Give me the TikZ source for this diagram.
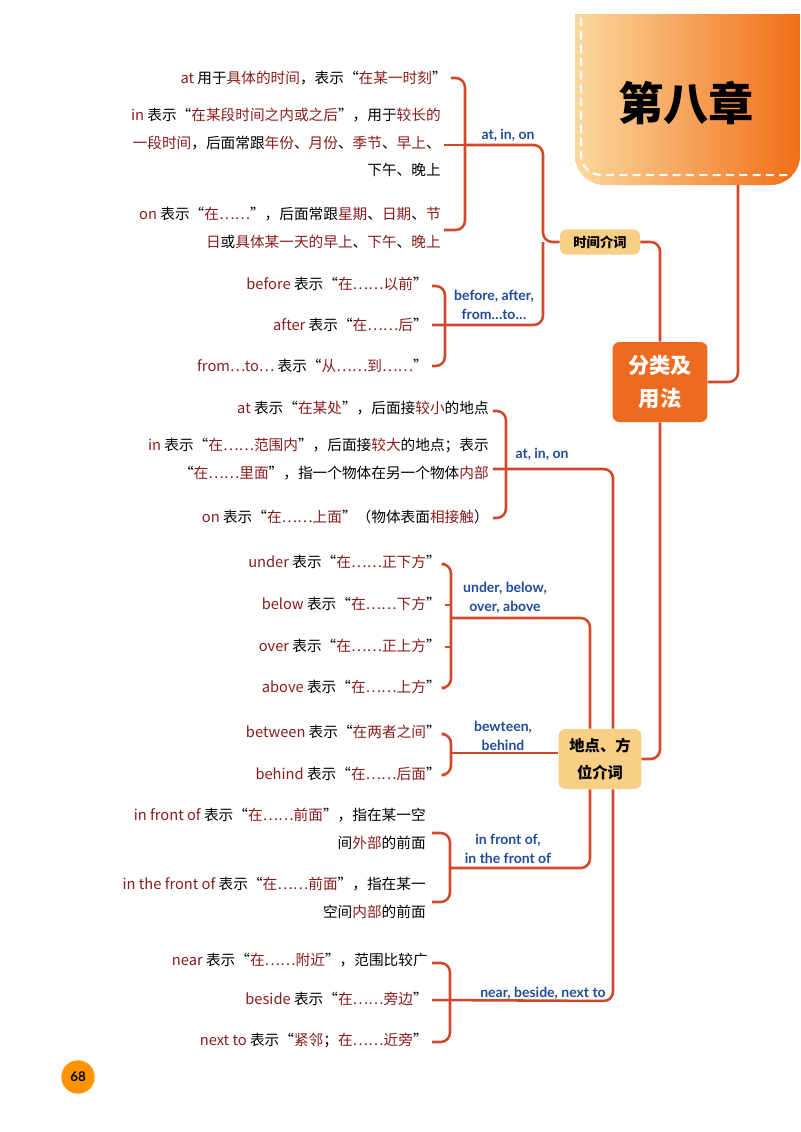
\documentclass[tikz,border=0pt]{standalone}
\usepackage{fontspec}
\setmainfont{Lato}
\newfontfamily\cjk{Noto Sans CJK SC}
\usetikzlibrary{calc}
\definecolor{dred}{HTML}{8A1C1C}
\definecolor{lnc}{HTML}{D04A2A}
\definecolor{lblue}{HTML}{1F4C9A}
\definecolor{boxo}{HTML}{EE6A1E}
\definecolor{boxl}{HTML}{F9CF86}
\newcommand{\rr}[1]{\textcolor{dred}{#1}}
\begin{document}
\begin{tikzpicture}[x=0.75pt,y=-0.75pt,
  txt/.style={anchor=east,inner sep=0pt,align=right,font=\fontsize{11}{20.5}\selectfont\cjk},
  lab/.style={inner sep=0pt,align=center,text=lblue,font=\fontsize{10.5}{14.5}\selectfont\rmfamily\bfseries},
  con/.style={draw=lnc,line width=1.9pt,rounded corners=7pt},
  bx/.style={rounded corners=5pt,inner sep=0pt,align=center}]
\useasboundingbox (0,0) rectangle (800,1132);
% header
\shade[left color=boxl!80!white,right color=boxo!80!orange,rounded corners=22pt]
  (575,14) -- (575,185) -- (800,185) [sharp corners] -- (800,14) -- cycle;
\draw[white,line width=1.5pt,dash pattern=on 6pt off 4pt,rounded corners=15pt]
  (581,18) -- (581,175) -- (800,175);
\node[inner sep=0pt,font=\fontsize{34}{40}\selectfont\cjk\bfseries] (title) at (686,103) {第八章};
\coordinate (hb) at (738,185);
% main boxes
\node[bx,fill=boxo,text=white,font=\fontsize{16}{25}\selectfont\cjk\bfseries,minimum width=71pt,minimum height=60pt] (fl) at (660,382) {分类及\\用法};
\node[bx,fill=boxl,font=\fontsize{10}{12}\selectfont\cjk\bfseries,minimum width=60pt,minimum height=19pt] (sj) at (600,242) {时间介词};
\node[bx,fill=boxl,font=\fontsize{11.5}{20}\selectfont\cjk\bfseries,minimum width=62pt,minimum height=45pt] (dd) at (600,759) {地点、方\\位介词};
\draw[con] (hb) |- (fl.east);
\draw[con] (sj.east) -| (fl.north);
\draw[con] (fl.south) |- (dd.east);
% ---- time: at in on
\node[txt] (a1) at (447,78) {\rr{at} 用于\rr{具体的时间}，表示“\rr{在某一时刻}”};
\node[txt,anchor=north east] (a2) at (441,108) {\rr{in} 表示“\rr{在某段时间之内或之后}”，用于\rr{较长的}\\\rr{一段时间}，后面常跟\rr{年份}、\rr{月份}、\rr{季节}、\rr{早上}、\\下午、晚上};
\node[txt,anchor=north east] (a3) at (441,207) {\rr{on} 表示“\rr{在……}”，后面常跟\rr{星期}、\rr{日期}、\rr{节}\\\rr{日}或\rr{具体某一天的早上}、\rr{下午}、\rr{晚上}};
\coordinate (a2s) at ($(a2.north east)+(3,37)$);
\coordinate (a3s) at ($(a3.north east)+(3,23)$);
\draw[con] ($(a1.east)+(4,0)$) -- (465,78) -- (465,230) -- (a3s);
\draw[con] (a2s) -- (465,145);
\draw[con] (465,145) -| (543,242) -- (sj.west);
\node[lab] (l1) at (508,135) {at, in, on};
% before after from
\node[txt] (b1) at (428,284) {\rr{before} 表示“\rr{在……以前}”};
\node[txt] (b2) at (428,325) {\rr{after} 表示“\rr{在……后}”};
\node[txt] (b3) at (428,366) {\rr{from…to…} 表示“\rr{从……到……}”};
\draw[con] ($(b1.east)+(4,2)$) -- (445,286) -- (445,366) -- ($(b3.east)+(4,0)$);
\draw[con] ($(b2.east)+(4,0)$) -- (543,325) -- (543,242);
\node[lab] (l2) at (494,305) {before, after,\\from…to…};
% ---- place at in on
\node[txt] (p1) at (489,408) {\rr{at} 表示“\rr{在某处}”，后面接\rr{较小}的地点};
\node[txt,anchor=north east] (p2) at (489,438) {\rr{in} 表示“\rr{在……范围内}”，后面接\rr{较大}的地点；表示\\“\rr{在……里面}”，指一个物体在另一个物体\rr{内部}};
\node[txt] (p3) at (489,517) {\rr{on} 表示“\rr{在……上面}”（物体表面\rr{相接触}）};
\coordinate (p2s) at ($(p2.north east)+(4,31)$);
\draw[con] ($(p1.east)+(4,3)$) -- (506,411) -- (506,518) -- ($(p3.east)+(4,1)$);
\draw[con] (p2s) -- (613,469) -- (613,600) -- ($(dd.north)+(13,0)$);
\node[lab] (l3) at (542,454) {at, in, on};
% under below over above
\node[txt] (u1) at (441,562) {\rr{under} 表示“\rr{在……正下方}”};
\node[txt] (u2) at (441,604) {\rr{below} 表示“\rr{在……下方}”};
\node[txt] (u3) at (441,646) {\rr{over} 表示“\rr{在……正上方}”};
\node[txt] (u4) at (441,687) {\rr{above} 表示“\rr{在……上方}”};
\draw[con] ($(u1.east)+(4,2)$) -- (451,564) -- (451,688) -- ($(u4.east)+(4,1)$);
\draw[con] ($(u2.east)+(4,1)$) -- (451,605);
\draw[con] ($(u3.east)+(4,1)$) -- (451,647);
\draw[con] (451,618) -| ($(dd.north)+(-10,0)$);
\node[lab] (l4) at (505,598) {under, below,\\over, above};
% between behind
\node[txt] (w1) at (441,732) {\rr{between} 表示“\rr{在两者之间}”};
\node[txt] (w2) at (441,774) {\rr{behind} 表示“\rr{在……后面}”};
\draw[con] ($(w1.east)+(4,2)$) -- (451,734) -- (451,775) -- ($(w2.east)+(4,1)$);
\draw[con] (451,753) -- (dd.west|-451,753);
\node[lab] (l5) at (503,736) {bewteen,\\behind};
% in front of
\node[txt,anchor=north east] (f1) at (426,808) {\rr{in front of} 表示“\rr{在……前面}”，指在某一空\\间\rr{外部}的前面};
\node[txt,anchor=north east] (f2) at (426,877) {\rr{in the front of} 表示“\rr{在……前面}”，指在某一\\空间\rr{内部}的前面};
\coordinate (f1s) at ($(f1.north east)+(6,25)$);
\coordinate (f2s) at ($(f2.north east)+(6,25)$);
\draw[con] (f1s) -- (450,833) -- (450,902) -- (f2s);
\draw[con] (450,868) -| ($(dd.south)+(-10,0)$);
\node[lab] (l6) at (508,849) {in front of,\\in the front of};
% near beside next to
\node[txt] (n1) at (428,960) {\rr{near} 表示“\rr{在……附近}”，范围比较广};
\node[txt] (n2) at (428,999) {\rr{beside} 表示“\rr{在……旁边}”};
\node[txt] (n3) at (428,1040) {\rr{next to} 表示“\rr{紧邻}；\rr{在……近旁}”};
\draw[con] ($(n1.east)+(4,3)$) -- (450,963) -- (450,1042) -- ($(n3.east)+(4,2)$);
\draw[con] ($(n2.east)+(4,1)$) -- (613,1001) -- ($(dd.south)+(13,0)$);
\node[lab] (l7) at (543,993) {near, beside, next to};
% page number
\node[circle,fill=orange!85!yellow,minimum size=25pt,inner sep=0pt,font=\fontsize{10}{12}\selectfont\bfseries] (pg) at (78,1077) {68};
\end{tikzpicture}
\end{document}
